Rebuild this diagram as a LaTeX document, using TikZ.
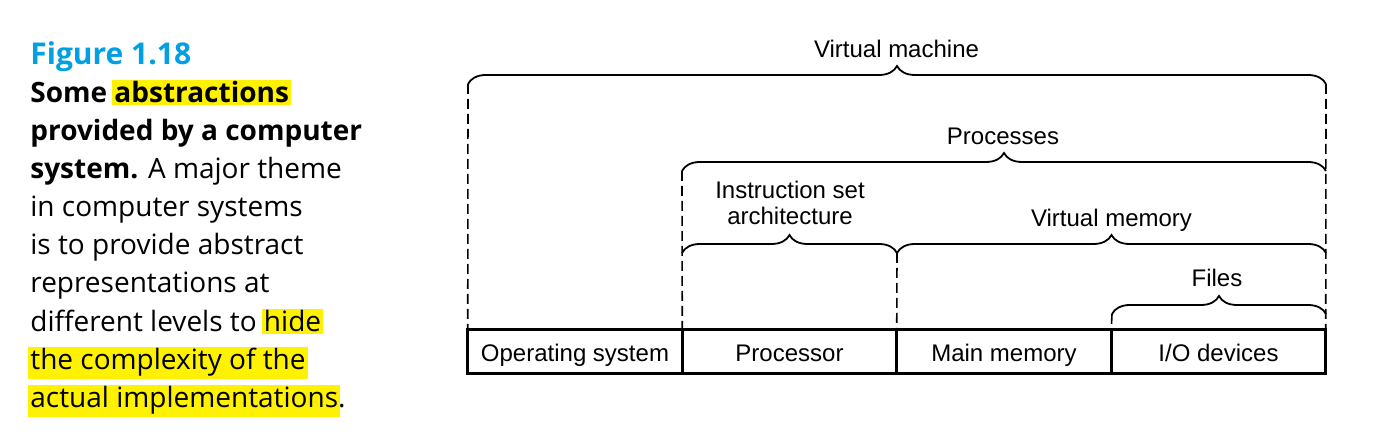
\documentclass[tikz,border=0pt]{standalone}
\usepackage{fontspec}
\setmainfont{Liberation Sans}
\newfontfamily\capfont[Ligatures=NoCommon]{Open Sans}
\usetikzlibrary{positioning,decorations.pathreplacing}
\definecolor{figblue}{RGB}{0,160,227}
\definecolor{hiyellow}{RGB}{255,242,0}
\newcommand{\hl}[1]{{\setlength{\fboxsep}{1pt}\kern-\fboxsep\colorbox{hiyellow}{#1}\kern-\fboxsep}}

\begin{document}
\begin{tikzpicture}[x=0.5pt,y=-0.5pt,
    unit/.style={draw,line width=1.5pt,minimum width=107.25pt,minimum height=22pt,
      inner sep=0pt,outer sep=0pt,text height=11pt,text depth=1.3pt,font=\fontsize{12}{14}\selectfont},
    lbl/.style={anchor=base,inner sep=0pt,align=center,font=\fontsize{12}{13}\selectfont},
    capline/.style={anchor=base west,inner sep=0pt,font=\capfont\fontsize{14}{17}\selectfont},
    abrace/.style={decorate,decoration={brace,amplitude=9pt},line width=0.9pt},
    guide/.style={dash pattern=on 5pt off 2.5pt,line width=0.8pt}]
  \useasboundingbox (0,0) rectangle (1383,437);
  \node[capline,text=figblue,font=\capfont\bfseries\fontsize{15}{17}\selectfont] (fig) at (30,65) {Figure 1.18};
  \node[capline] (cap1) at (30,103) {\textbf{Some \hl{abstractions}}};
  \node[capline] (cap2) at (30,141) {\textbf{provided by a computer}};
  \node[capline] (cap3) at (30,179) {\textbf{system.} A major theme};
  \node[capline] (cap4) at (30,217) {in computer systems};
  \node[capline] (cap5) at (30,255) {is to provide abstract};
  \node[capline] (cap6) at (30,293) {representations at};
  \node[capline] (cap7) at (30,332) {different levels to \hl{hide}};
  \node[capline] (cap8) at (30,370) {\hl{the complexity of the}};
  \node[capline] (cap9) at (30,408) {\hl{actual implementations}.};
  \node[unit] (os) at (575,352) {Operating system};
  \node[unit,right=0pt of os] (cpu) {Processor};
  \node[unit,right=0pt of cpu] (mem) {Main memory};
  \node[unit,right=0pt of mem] (io) {I/O devices};
  \coordinate (vmL) at (468,84) ;
  \coordinate (vmR) at (1326,84) ;
  \coordinate (prL) at (682,171) ;
  \coordinate (prR) at (1326,171) ;
  \coordinate (isL) at (682,253) ;
  \coordinate (isR) at (897,253) ;
  \coordinate (vmemL) at (897,253) ;
  \coordinate (vmemR) at (1326,253) ;
  \coordinate (fiL) at (1112,314) ;
  \coordinate (fiR) at (1326,314) ;
  \draw[abrace] (vmL) -- (vmR);
  \draw[abrace] (prL) -- (prR);
  \draw[abrace] (isL) -- (isR);
  \draw[abrace] (vmemL) -- (vmemR);
  \draw[abrace] (fiL) -- (fiR);
  \draw[guide] (vmL) -- (os.north west);
  \draw[guide] (vmR) -- (io.north east);
  \draw[guide] (prL) -- (cpu.north west);
  \draw[guide] (isR) -- (mem.north west);
  \draw[guide] (fiL) -- (io.north west);
  \node[lbl] (vmlbl) at (896.5,58) {Virtual machine};
  \node[lbl] (prlbl) at (1003,145) {Processes};
  \node[lbl] (islbl) at (790,225) {Instruction set\\architecture};
  \node[lbl] (vmemlbl) at (1111.5,227) {Virtual memory};
  \node[lbl] (filbl) at (1217,287) {Files};
\end{tikzpicture}
\end{document}
